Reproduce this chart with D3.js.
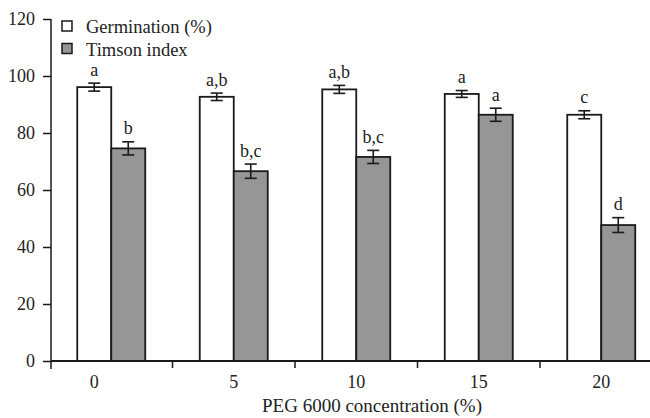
<!DOCTYPE html>
<html>
<head>
<meta charset="utf-8">
<script src="https://cdn.jsdelivr.net/npm/d3@7"></script>
<style>
  body { margin: 0; background: #fff; }
</style>
</head>
<body>
<div id="chart"></div>
<script>
// data
const categories = ["0", "5", "10", "15", "20"];
const germination = [96.1, 92.7, 95.3, 93.7, 86.4];
const germinationErr = [1.4, 1.3, 1.4, 1.2, 1.4];
const germinationLetters = ["a", "a,b", "a,b", "a", "c"];
const timson = [74.6, 66.6, 71.6, 86.4, 47.7];
const timsonErr = [2.3, 2.5, 2.3, 2.3, 2.6];
const timsonLetters = ["b", "b,c", "b,c", "a", "d"];
const yTicks = [0, 20, 40, 60, 80, 100, 120];

const W = 650, H = 418;
const FONT = "Liberation Serif";
const ink = "#1a1a1a";
const svg = d3.select("#chart").append("svg")
  .attr("width", W).attr("height", H);

const y = d3.scaleLinear().domain([0, 120]).range([361, 19]);
const x = d3.scaleBand().domain(categories).range([50, 662.5]).padding(0);
const barW = 34;

const series = [
  { name: "Germination (%)", values: germination, err: germinationErr, letters: germinationLetters, fill: "#ffffff", off: -barW },
  { name: "Timson index", values: timson, err: timsonErr, letters: timsonLetters, fill: "#969696", off: 0 }
];

// bars
series.forEach(s => {
  const g = svg.append("g");
  g.selectAll("rect")
    .data(categories)
    .join("rect")
    .attr("x", (d) => x(d) + x.bandwidth() / 2 + s.off)
    .attr("y", (d, i) => y(s.values[i]))
    .attr("width", barW)
    .attr("height", (d, i) => y(0) - y(s.values[i]))
    .attr("fill", s.fill)
    .attr("stroke", ink)
    .attr("stroke-width", 1.8);

  // error bars
  const eb = g.selectAll("g.err")
    .data(categories)
    .join("g")
    .attr("class", "err")
    .attr("stroke", ink)
    .attr("stroke-width", 1.6);
  const cx = d => x(d) + x.bandwidth() / 2 + s.off + barW / 2;
  eb.append("line")
    .attr("x1", cx).attr("x2", cx)
    .attr("y1", (d, i) => y(s.values[i] + s.err[i]))
    .attr("y2", (d, i) => y(s.values[i] - s.err[i]));
  eb.append("line")
    .attr("x1", d => cx(d) - 6).attr("x2", d => cx(d) + 6)
    .attr("y1", (d, i) => y(s.values[i] + s.err[i]))
    .attr("y2", (d, i) => y(s.values[i] + s.err[i]));
  eb.append("line")
    .attr("x1", d => cx(d) - 6).attr("x2", d => cx(d) + 6)
    .attr("y1", (d, i) => y(s.values[i] - s.err[i]))
    .attr("y2", (d, i) => y(s.values[i] - s.err[i]));

  // significance letters
  g.selectAll("text.lt")
    .data(categories)
    .join("text")
    .attr("class", "lt")
    .attr("x", cx)
    .attr("y", (d, i) => y(s.values[i] + s.err[i]) - 7.5)
    .attr("text-anchor", "middle")
    .attr("font-family", FONT)
    .attr("font-size", 18)
    .attr("fill", "#222")
    .text((d, i) => s.letters[i]);
});

// y axis
const yAxis = svg.append("g")
  .attr("transform", "translate(51,0)")
  .call(d3.axisLeft(y).tickValues(yTicks).tickSize(8).tickSizeOuter(0).tickPadding(8));
yAxis.select(".domain").remove();
yAxis.selectAll("line").attr("stroke", ink).attr("stroke-width", 1.5);
yAxis.selectAll("text")
  .attr("font-family", FONT).attr("font-size", 18).attr("fill", "#222");
svg.append("line")
  .attr("x1", 51).attr("x2", 51)
  .attr("y1", y(120)).attr("y2", y(0) + 8)
  .attr("stroke", ink).attr("stroke-width", 1.5);

// x axis
svg.append("line")
  .attr("x1", 51).attr("x2", W)
  .attr("y1", y(0)).attr("y2", y(0))
  .attr("stroke", ink).attr("stroke-width", 1.8);
svg.selectAll("line.xt")
  .data(categories.slice(1))
  .join("line")
  .attr("class", "xt")
  .attr("x1", d => x(d)).attr("x2", d => x(d))
  .attr("y1", y(0)).attr("y2", y(0) + 7)
  .attr("stroke", ink).attr("stroke-width", 1.5);
const xAxis = svg.append("g")
  .attr("transform", `translate(0,${y(0)})`)
  .call(d3.axisBottom(x).tickSize(0).tickPadding(14));
xAxis.select(".domain").remove();
xAxis.selectAll("text")
  .attr("font-family", FONT).attr("font-size", 18).attr("fill", "#222")
  .attr("dx", (d, i) => i === 0 ? -17 : 0);

svg.append("text")
  .attr("x", 372).attr("y", 412)
  .attr("text-anchor", "middle")
  .attr("font-family", FONT)
  .attr("font-size", 19)
  .attr("fill", "#222")
  .text("PEG 6000 concentration (%)");

// legend
const legend = svg.append("g").attr("transform", "translate(62,21)");
series.forEach((s, i) => {
  const row = legend.append("g").attr("transform", `translate(0,${i * 22.5})`);
  row.append("rect")
    .attr("width", 10).attr("height", 10)
    .attr("fill", s.fill)
    .attr("stroke", ink).attr("stroke-width", 1.5);
  row.append("text")
    .attr("x", 24).attr("y", 12)
    .attr("font-family", FONT)
    .attr("font-size", 18.5)
    .attr("fill", "#222")
    .text(s.name);
});
</script>
</body>
</html>
